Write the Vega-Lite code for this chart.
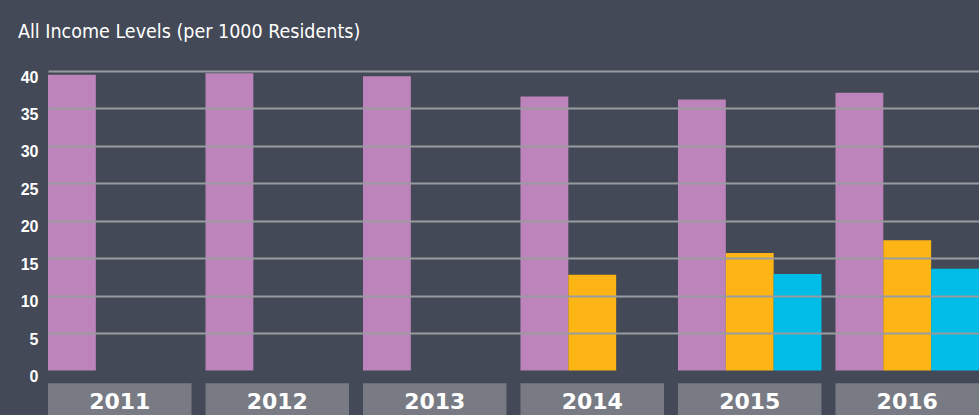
{
  "$schema": "https://vega.github.io/schema/vega-lite/v6.json",
  "width": 931,
  "height": 344,
  "autosize": {"type": "none"},
  "padding": {"left": 48, "top": 71, "right": 0, "bottom": 0},
  "background": "#434956",
  "config": {"view": {"stroke": null}},
  "title": {
    "text": "All Income Levels (per 1000 Residents)",
    "anchor": "start",
    "frame": "group",
    "dx": -30,
    "offset": 12,
    "baseline": "alphabetic",
    "font": "Liberation Sans Narrow, DejaVu Sans Condensed, sans-serif",
    "fontSize": 19.5,
    "fontWeight": "normal",
    "color": "#ffffff"
  },
  "datasets": {
    "bars": [
      {"year": "2011", "series": "a", "value": 39.5},
      {"year": "2012", "series": "a", "value": 39.7},
      {"year": "2013", "series": "a", "value": 39.3},
      {"year": "2014", "series": "a", "value": 36.6},
      {"year": "2014", "series": "b", "value": 12.8},
      {"year": "2015", "series": "a", "value": 36.2},
      {"year": "2015", "series": "b", "value": 15.7},
      {"year": "2015", "series": "c", "value": 12.9},
      {"year": "2016", "series": "a", "value": 37.1},
      {"year": "2016", "series": "b", "value": 17.4},
      {"year": "2016", "series": "c", "value": 13.6}
    ],
    "years": [
      {"year": "2011"}, {"year": "2012"}, {"year": "2013"},
      {"year": "2014"}, {"year": "2015"}, {"year": "2016"}
    ]
  },
  "layer": [
    {
      "data": {"name": "bars"},
      "mark": {"type": "bar", "stroke": null},
      "encoding": {
        "x": {
          "field": "year", "type": "nominal",
          "scale": {"domain": ["2011","2012","2013","2014","2015","2016"], "paddingInner": 0.0886, "paddingOuter": 0},
          "axis": null
        },
        "xOffset": {
          "field": "series", "type": "nominal",
          "scale": {"domain": ["a","b","c"], "paddingInner": 0, "paddingOuter": 0}
        },
        "y": {
          "field": "value", "type": "quantitative",
          "scale": {"domain": [-5.95, 40], "nice": false, "zero": false},
          "axis": {
            "values": [0,5,10,15,20,25,30,35,40],
            "title": null,
            "domain": false,
            "ticks": false,
            "tickSize": 0,
            "labelPadding": 10,
            "labelOffset": 6,
            "labelFont": "Liberation Sans, Arial, sans-serif",
            "labelFontSize": 16,
            "labelFontWeight": "bold",
            "labelColor": "#ffffff",
            "grid": true,
            "gridColor": {"condition": {"test": "datum.value === 0", "value": "transparent"}, "value": "#9a9ba0"},
            "gridWidth": 2,
            "zindex": 1
          }
        },
        "color": {
          "field": "series", "type": "nominal",
          "scale": {"domain": ["a","b","c"], "range": ["#bc84bb", "#fdb515", "#00bde8"]},
          "legend": null
        }
      }
    },
    {
      "data": {"name": "years"},
      "mark": {"type": "rect", "color": "#787b84"},
      "encoding": {
        "x": {"field": "year", "type": "nominal"},
        "y": {"datum": -1.71},
        "y2": {"datum": -7}
      }
    },
    {
      "data": {"name": "years"},
      "mark": {"type": "text", "color": "#ffffff", "font": "DejaVu Sans, sans-serif", "fontWeight": "bold", "fontSize": 22, "baseline": "alphabetic", "align": "center"},
      "encoding": {
        "x": {"field": "year", "type": "nominal", "bandPosition": 0.5},
        "y": {"datum": -5.2},
        "text": {"field": "year"}
      }
    }
  ]
}
